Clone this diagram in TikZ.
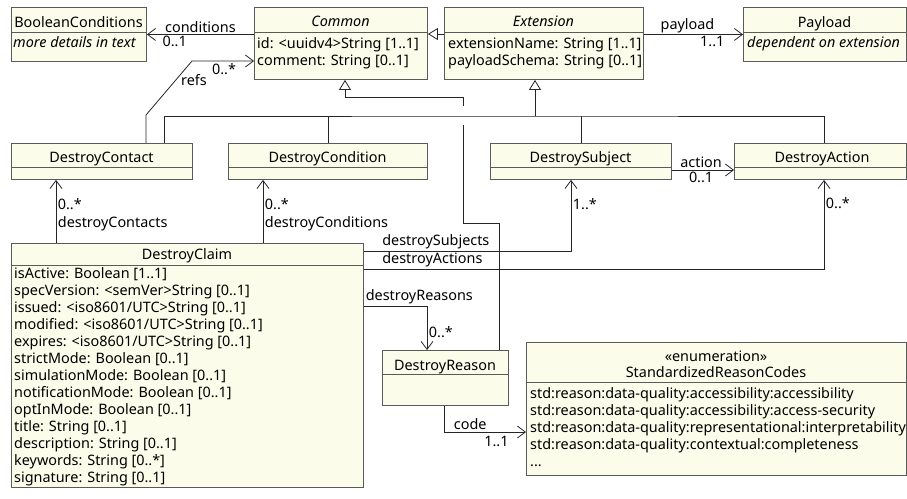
\documentclass[tikz,border=0pt]{standalone}
\usepackage{fontspec}
\setmainfont{Noto Sans}
\usepackage{tikz}
\usetikzlibrary{positioning, arrows.meta, calc}
\definecolor{umlFill}{HTML}{FCFCEA}
\definecolor{umlBorder}{HTML}{5A5A5A}
\definecolor{umlLine}{HTML}{262626}

\begin{document}
\begin{tikzpicture}[
  x=1pt, y=-1pt,
  every node/.style={font=\fontsize{14.4}{17}\selectfont, text=black},
  classbox/.style={
    rectangle, draw=umlBorder, fill=umlFill, line width=0.9pt,
    anchor=north west, inner sep=0pt
  },
  classname/.style={inner sep=0pt, text height=10pt, text depth=3pt},
  attrlist/.style={inner sep=0pt, anchor=north west, align=left},
  rolelabel/.style={inner sep=1.5pt},
  separator/.style={draw=umlBorder, line width=0.9pt},
  assoc/.style={draw=umlLine, line width=0.8pt,
    -{Straight Barb[length=8pt, width=12pt]}},
  inherit/.style={draw=umlLine, line width=0.8pt,
    -{Triangle[open, length=10pt, width=12pt, fill=white]}},
  treeline/.style={draw=umlLine, line width=0.8pt},
  jumpgap/.style={draw=white, line width=4pt},
]
\useasboundingbox (0,0) rectangle (907,498);

% === TOP ROW ===
\node[classbox, minimum width=135pt, minimum height=54pt] (boolc) at (11,7) {};
\draw[separator] (boolc.north west |- 0,32) -- (boolc.north east |- 0,32);
\node[classname] (boolcT) at (78.5,23.5) {BooleanConditions};
\node[classname, anchor=west, font=\fontsize{14.4}{17}\selectfont\itshape] (boolcA) at (13,43.5) {more details in text};

\node[classbox, minimum width=173pt, minimum height=72pt] (common) at (254,7) {};
\draw[separator] (common.north west |- 0,32) -- (common.north east |- 0,32);
\node[classname, font=\fontsize{14.4}{17}\selectfont\itshape] (commonT) at (340.5,22.5) {Common};
\node[attrlist] (commonA) at (257,37.5) {id: <uuidv4>String [1..1]\\comment: String [0..1]};

\node[classbox, minimum width=199pt, minimum height=72pt] (ext) at (444,7) {};
\draw[separator] (ext.north west |- 0,32) -- (ext.north east |- 0,32);
\node[classname, font=\fontsize{14.4}{17}\selectfont\itshape] (extT) at (543.5,22.5) {Extension};
\node[attrlist] (extA) at (448,37.5) {extensionName: String [1..1]\\payloadSchema: String [0..1]};

\node[classbox, minimum width=163pt, minimum height=54pt] (payload) at (743,7) {};
\draw[separator] (payload.north west |- 0,32) -- (payload.north east |- 0,32);
\node[classname] (payloadT) at (824.5,23.5) {Payload};
\node[classname, anchor=west, font=\fontsize{14.4}{17}\selectfont\itshape] (payloadA) at (747,43.5) {dependent on extension};

% === MIDDLE ROW ===
\node[classbox, minimum width=181pt, minimum height=36pt] (contact) at (11,143) {};
\draw[separator] (contact.north west |- 0,167) -- (contact.north east |- 0,167);
\node[classname] (contactT) at (101.5,158.5) {DestroyContact};

\node[classbox, minimum width=199pt, minimum height=36pt] (condition) at (228,143) {};
\draw[separator] (condition.north west |- 0,167) -- (condition.north east |- 0,167);
\node[classname] (conditionT) at (327.5,158.5) {DestroyCondition};

\node[classbox, minimum width=181pt, minimum height=36pt] (subject) at (490,143) {};
\draw[separator] (subject.north west |- 0,167) -- (subject.north east |- 0,167);
\node[classname] (subjectT) at (580.5,158.5) {DestroySubject};

\node[classbox, minimum width=172pt, minimum height=36pt] (action) at (734,143) {};
\draw[separator] (action.north west |- 0,167) -- (action.north east |- 0,167);
\node[classname] (actionT) at (822,158.5) {DestroyAction};

% === BOTTOM ROW ===
\node[classbox, minimum width=352pt, minimum height=244pt] (claim) at (11,243) {};
\draw[separator] (claim.north west |- 0,265) -- (claim.north east |- 0,265);
\node[classname] (claimT) at (187,255.5) {DestroyClaim};
\node[attrlist] (claimA) at (14,267.5) {
  isActive: Boolean [1..1]\\
  specVersion: <semVer>String [0..1]\\
  issued: <iso8601/UTC>String [0..1]\\
  modified: <iso8601/UTC>String [0..1]\\
  expires: <iso8601/UTC>String [0..1]\\
  strictMode: Boolean [0..1]\\
  simulationMode: Boolean [0..1]\\
  notificationMode: Boolean [0..1]\\
  optInMode: Boolean [0..1]\\
  title: String [0..1]\\
  description: String [0..1]\\
  keywords: String [0..*]\\
  signature: String [0..1]
};

\node[classbox, minimum width=126pt, minimum height=55pt] (reason) at (382,350) {};
\draw[separator] (reason.north west |- 0,374) -- (reason.north east |- 0,374);
\node[classname] (reasonT) at (445,366.5) {DestroyReason};

\node[classbox, minimum width=380pt, minimum height=133pt] (codes) at (526,342) {};
\draw[separator] (codes.north west |- 0,382) -- (codes.north east |- 0,382);
\node[classname] (codesS) at (716,358) {«enumeration»};
\node[classname] (codesT) at (716,374) {StandardizedReasonCodes};
\node[attrlist] (codesA) at (530,387.5) {
  std:reason:data-quality:accessibility:accessibility\\
  std:reason:data-quality:accessibility:access-security\\
  std:reason:data-quality:representational:interpretability\\
  std:reason:data-quality:contextual:completeness\\
  ...
};

% === INHERITANCE ===
\draw[inherit] (ext.west |- 0,34) -- (common.east |- 0,34);
\draw[inherit] ($(reason.north west)+(117,0)$) -- ++(0,-127) -- ++(-36,0)
  -- ++(0,-126) -- ++(-118,0) -- ($(common.south west)+(91,0)$);
\draw[jumpgap] (463,106) -- (463,125);
\coordinate (bus) at (535,116);
\draw[inherit] (bus) -- (bus |- ext.south);
\draw[treeline] ($(contact.north west)+(153,0)$) |- (bus) -| ($(action.north west)+(90,0)$);
\draw[treeline] (condition.north) -- (condition.north |- bus);
\draw[treeline] (subject.north) -- (subject.north |- bus);

% === ASSOCIATIONS ===
\draw[assoc] (common.west |- boolc.east) --
  node[rolelabel, pos=0.5, above] {conditions}
  node[rolelabel, pos=0.74, below] {0..1} (boolc.east);
\draw[assoc] (ext.east |- payload.west) --
  node[rolelabel, pos=0.44, above] {payload}
  node[rolelabel, pos=0.69, below] {1..1} (payload.west);
\coordinate (refsBend) at (192,61);
\draw[assoc] ($(contact.north west)+(135,0)$) -- ++(0,-28) -- (refsBend) -- (common.west |- refsBend);
\node[rolelabel] (refsL) at (194,80) {refs};
\node[rolelabel] (refsM) at (224,69) {0..*};
\draw[assoc] (subject.east |- 0,170) --
  node[rolelabel, pos=0.47, above] {action}
  node[rolelabel, pos=0.47, below] {0..1} (action.west |- 0,170);

\draw[assoc] ($(claim.north west)+(45,0)$) coordinate (ccA) -- (ccA |- contact.south)
  node[rolelabel, pos=0.62, anchor=west] {0..*}
  node[rolelabel, pos=0.31, anchor=west] {destroyContacts};
\draw[assoc] ($(claim.north west)+(252,0)$) coordinate (ccB) -- (ccB |- condition.south)
  node[rolelabel, pos=0.62, anchor=west] {0..*}
  node[rolelabel, pos=0.31, anchor=west] {destroyConditions};
\draw[assoc] ($(claim.north east)+(0,8)$) -| ($(subject.south west)+(81,0)$)
  node[rolelabel, pos=0.04, anchor=south west] {destroySubjects}
  node[rolelabel, pos=0.83, anchor=west] {1..*};
\draw[assoc] ($(claim.north east)+(0,26)$) -| ($(action.south west)+(90,0)$)
  node[rolelabel, pos=0.018, anchor=south west] {destroyActions}
  node[rolelabel, pos=0.867, anchor=west] {0..*};
\draw[assoc] ($(claim.north east)+(0,63)$) -| ($(reason.north west)+(45,0)$)
  node[rolelabel, pos=0.0, anchor=south west] {destroyReasons}
  node[rolelabel, pos=0.8, anchor=west] {0..*};
\draw[assoc] ($(reason.south west)+(62,0)$) |- ($(codes.north west)+(0,90)$)
  node[rolelabel, pos=0.66, above] {code}
  node[rolelabel, pos=0.82, below, yshift=-2pt] {1..1};

\end{tikzpicture}
\end{document}
